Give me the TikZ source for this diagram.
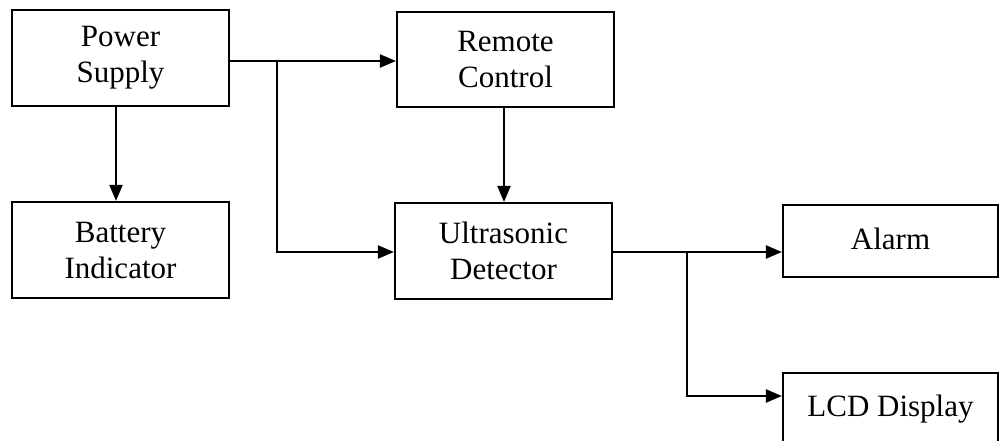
\documentclass[tikz,border=0pt]{standalone}
\usepackage{fontspec}
\setmainfont{Liberation Serif}
\usetikzlibrary{arrows.meta}
\begin{document}
\begin{tikzpicture}[x=1pt,y=-1pt,
  box/.style={draw=black,line width=2.2pt,rectangle,inner sep=0pt,align=center,
    font=\fontsize{31}{36}\selectfont},
  arr/.style={line width=2.2pt,-{Triangle[length=16pt,width=13pt]}}]
\useasboundingbox (0,0) rectangle (1000,441);
\node[box,minimum width=217pt,minimum height=96pt] (PS) at (120.5,58) {Power\\Supply};
\node[box,minimum width=217pt,minimum height=95pt] (RC) at (505.5,59.5) {Remote\\Control};
\node[box,minimum width=217pt,minimum height=96pt] (BI) at (120.5,250) {Battery\\Indicator};
\node[box,minimum width=217pt,minimum height=96pt] (UD) at (503.5,251) {Ultrasonic\\Detector};
\node[box,minimum width=215pt,minimum height=72pt] (AL) at (890.5,241) {\raisebox{4pt}{Alarm}};
\node[box,minimum width=215pt,minimum height=80pt] (LCD) at (890.5,413) {\raisebox{15pt}{LCD Display}};
\coordinate (j1) at (277,61);
\coordinate (j2) at (687,252);
\draw[arr] (PS.east |- j1) -- (RC.west |- j1);
\draw[arr] (j1) |- (UD.west |- j2);
\draw[arr] (PS.south -| 116,0) -- (BI.north -| 116,0);
\draw[arr] (RC.south -| 504,0) -- (UD.north -| 504,0);
\draw[arr] (UD.east |- j2) -- (AL.west |- j2);
\draw[arr] (j2) |- (LCD.west |- 0,396);
\end{tikzpicture}
\end{document}
